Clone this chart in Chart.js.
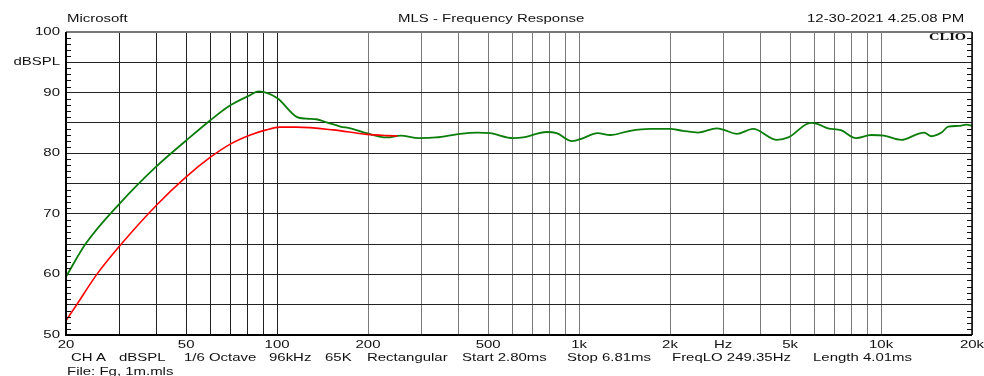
<!DOCTYPE html>
<html>
<head>
<meta charset="utf-8">
<script src="https://cdn.jsdelivr.net/npm/chart.js@4.4.1/dist/chart.umd.min.js"></script>
<style>
  html, body { margin: 0; padding: 0; background: #fff; }
  #wrap { position: relative; width: 984px; height: 376px; overflow: hidden; }
  #wrap canvas { position: absolute; left: 0; top: 0; }
  .t { position: absolute; font: 11px "Liberation Sans", Arial, sans-serif; color: #111;
       white-space: pre; transform: scaleX(1.36); transform-origin: 0 0; line-height: 11px; }
  .clio { font: bold 10px "Liberation Serif", serif; transform: scaleX(1.45); }
</style>
</head>
<body>
<div id="wrap">
  <canvas id="ch" width="984" height="376"></canvas>
  <div class="t" style="left:67px;top:13px">Microsoft</div>
  <div class="t" style="left:398px;top:13px">MLS - Frequency Response</div>
  <div class="t" style="left:807px;top:13px">12-30-2021 4.25.08 PM</div>
  <div class="t clio" style="left:929px;top:31px">CLIO</div>
  <div class="t" style="left:71px;top:352px">CH A</div>
  <div class="t" style="left:119px;top:352px">dBSPL</div>
  <div class="t" style="left:184px;top:352px">1/6 Octave</div>
  <div class="t" style="left:269px;top:352px">96kHz</div>
  <div class="t" style="left:325px;top:352px">65K</div>
  <div class="t" style="left:367px;top:352px">Rectangular</div>
  <div class="t" style="left:462px;top:352px">Start 2.80ms</div>
  <div class="t" style="left:567px;top:352px">Stop 6.81ms</div>
  <div class="t" style="left:672px;top:352px">FreqLO 249.35Hz</div>
  <div class="t" style="left:813px;top:352px">Length 4.01ms</div>
  <div class="t" style="left:67px;top:366px">File: Fg, 1m.mls</div>
</div>
<script>
// ── Dados ──
const greenFreq = [20, 23.2, 30, 40, 50, 60, 70, 80, 87, 100, 116, 125, 135, 146, 162, 175, 198, 231, 256, 295, 336, 403, 460, 507, 606, 652, 780, 843, 948, 1033, 1150, 1268, 1476, 1720, 1997, 2206, 2474, 2856, 3000, 3330, 3768, 4526, 4928, 5850, 6176, 6670, 7360, 8260, 9260, 10230, 11650, 13270, 13900, 14680, 15850, 16700, 18030, 19200, 20000];
const greenDb   = [59.6, 65.0, 71.6, 77.9, 82.1, 85.4, 87.9, 89.4, 90.2, 89.1, 86.0, 85.7, 85.6, 85.1, 84.4, 84.1, 83.3, 82.6, 82.9, 82.5, 82.6, 83.2, 83.4, 83.3, 82.5, 82.6, 83.5, 83.3, 82.0, 82.5, 83.3, 83.0, 83.7, 84.0, 84.0, 83.7, 83.4, 84.1, 83.9, 83.2, 84.0, 82.2, 82.6, 85.0, 84.8, 84.1, 83.8, 82.5, 83.0, 82.9, 82.2, 83.2, 83.4, 82.8, 83.4, 84.4, 84.5, 84.7, 84.5];
const redFreq   = [20, 21.7, 25.3, 30, 40, 50, 60, 70, 81.5, 92, 102, 116, 153, 198, 231, 250];
const redDb     = [52.4, 55.0, 60.0, 64.6, 71.5, 76.1, 79.3, 81.5, 83.0, 83.85, 84.3, 84.3, 83.85, 83.1, 82.9, 82.85];

// grade vertical (log) e rótulos
const gridFreqs   = [20, 30, 40, 50, 60, 70, 80, 90, 100, 200, 300, 400, 500, 600, 700, 800, 900, 1000, 2000, 3000, 4000, 5000, 6000, 7000, 8000, 9000, 10000, 20000];
const xLabelFreqs = [20, 50, 100, 200, 500, 1000, 2000, 3000, 5000, 10000, 20000];
const xLabelTexts = ['20', '50', '100', '200', '500', '1k', '2k', 'Hz', '5k', '10k', '20k'];
const yLabelVals  = [100, 95, 90, 80, 70, 60, 50];
const yLabelTexts = ['100', 'dBSPL', '90', '80', '70', '60', '50'];

const FONT = '11px "Liberation Sans", Arial, sans-serif';
const SX = 1.36; // texto do original é esticado na horizontal

function scaledText(ctx, txt, x, y, align) {
  ctx.save();
  ctx.translate(x, y);
  ctx.scale(SX, 1);
  ctx.textAlign = align;
  ctx.fillText(txt, 0, 0);
  ctx.restore();
}

// ── Moldura, minor ticks e rótulos ──
const clioFrame = {
  id: 'clioFrame',
  afterDraw(chart) {
    const ctx = chart.ctx, a = chart.chartArea;
    const xs = chart.scales.x, ys = chart.scales.y;
    ctx.save();
    // minor ticks 1 dB nas bordas esquerda/direita
    ctx.strokeStyle = '#111'; ctx.lineWidth = 1;
    for (let v = 51; v < 100; v++) {
      if (v % 5 === 0) continue;
      const y = Math.round(ys.getPixelForValue(v)) + 0.5;
      ctx.beginPath();
      ctx.moveTo(a.left, y); ctx.lineTo(a.left + 5, y);
      ctx.moveTo(a.right - 5, y); ctx.lineTo(a.right, y);
      ctx.stroke();
    }
    // moldura
    ctx.strokeStyle = '#777'; ctx.lineWidth = 2;
    ctx.beginPath(); ctx.moveTo(a.left, a.top); ctx.lineTo(a.right, a.top); ctx.stroke();
    ctx.strokeStyle = '#000';
    ctx.beginPath(); ctx.moveTo(a.left, a.top); ctx.lineTo(a.left, a.bottom); ctx.lineTo(a.right, a.bottom); ctx.stroke();
    ctx.lineWidth = 1.5;
    ctx.beginPath(); ctx.moveTo(a.right, a.top); ctx.lineTo(a.right, a.bottom); ctx.stroke();
    // rótulos
    ctx.fillStyle = '#111'; ctx.font = FONT; ctx.textBaseline = 'middle';
    yLabelVals.forEach((v, i) => scaledText(ctx, yLabelTexts[i], a.left - 6, ys.getPixelForValue(v), 'right'));
    ctx.textBaseline = 'alphabetic';
    xLabelFreqs.forEach((f, i) => scaledText(ctx, xLabelTexts[i], xs.getPixelForValue(f), a.bottom + 13, 'center'));
    ctx.restore();
  }
};

const toPts = (fs, ds) => fs.map((f, i) => ({ x: f, y: ds[i] }));

new Chart(document.getElementById('ch').getContext('2d'), {
  type: 'line',
  data: {
    datasets: [
      { data: toPts(redFreq, redDb), borderColor: '#ff0000', borderWidth: 1.6, pointRadius: 0, tension: 0.4, cubicInterpolationMode: 'monotone' },
      { data: toPts(greenFreq, greenDb), borderColor: '#0a7d0a', borderWidth: 1.8, pointRadius: 0, tension: 0.4, cubicInterpolationMode: 'monotone' }
    ]
  },
  plugins: [clioFrame],
  options: {
    responsive: false, animation: false, devicePixelRatio: 1,
    layout: { padding: { top: 32, right: 12, left: 0, bottom: 0 } },
    plugins: { legend: { display: false }, tooltip: { enabled: false } },
    scales: {
      x: {
        type: 'logarithmic', min: 20, max: 20000,
        afterBuildTicks: s => { s.ticks = gridFreqs.map(v => ({ value: v })); },
        afterFit: s => { s.height = 41; },
        ticks: { display: false },
        border: { display: false },
        grid: { drawTicks: false, lineWidth: 1, color: c => (c.tick && c.tick.value <= 100 ? '#222' : '#7a7a7a') }
      },
      y: {
        min: 50, max: 100,
        afterBuildTicks: s => { const t = []; for (let v = 50; v <= 100; v += 5) t.push({ value: v }); s.ticks = t; },
        afterFit: s => { s.width = 66; },
        ticks: { display: false },
        border: { display: false },
        grid: { drawTicks: false, lineWidth: 1, color: '#222' }
      }
    }
  }
});
</script>
</body>
</html>
